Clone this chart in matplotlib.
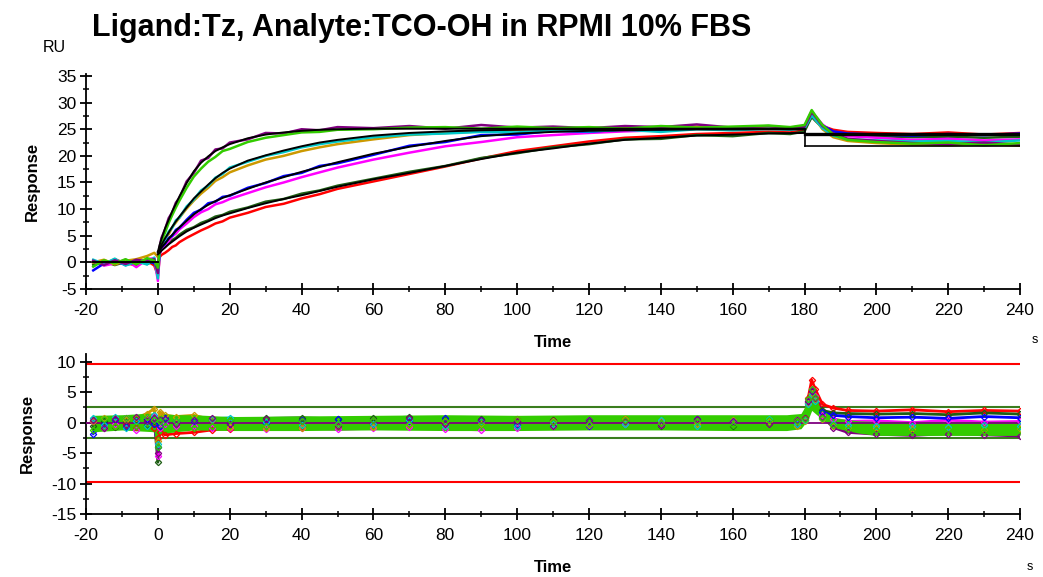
import matplotlib

matplotlib.use("Agg")
import matplotlib.pyplot as plt  # noqa: E402
from matplotlib.ticker import MultipleLocator  # noqa: E402

plt.rcParams["font.family"] = ["Liberation Sans", "DejaVu Sans"]
plt.rcParams["axes.unicode_minus"] = False

TITLE = "Ligand:Tz, Analyte:TCO-OH in RPMI 10% FBS"

# sensorgram time grid (s)
T = [-18, -15, -12, -9, -6, -3, -1,
     0, 0.5, 1, 2, 3, 4, 5, 6,
     8, 10, 12, 14, 16, 18, 20,
     25, 30, 35, 40, 45, 50,
     60, 70, 80, 90, 100, 110, 120, 130, 140, 150, 160, 170,
     176, 180, 181, 182, 183, 185, 188, 192,
     200, 210, 220, 230, 240]

purple = [0.3, -0.5, 0.4, -0.3, 0.5, 0.2, 0.6,
          -2.0, 3.0, 4.6, 6.2, 8.3, 9.4, 11.2, 12.1,
          15.2, 16.8, 19.1, 19.6, 21.2, 21.4, 22.5,
          23.1, 24.3, 24.2, 25.0, 24.8, 25.4,
          25.2, 25.6, 25.1, 25.8, 25.3, 25.5, 25.2, 25.6, 25.4, 25.9, 25.3, 25.6,
          25.2, 25.5, 26.8, 28.2, 27.4, 25.6, 24.2, 23.2,
          22.8, 22.4, 22.2, 22.5, 22.1]
green = [-0.8, 0.4, -0.2, 0.6, -0.4, 0.8, 0.3,
         -1.0, 2.6, 4.0, 5.6, 7.4, 8.9, 10.3, 11.6,
         14.0, 16.1, 17.6, 18.9, 19.8, 20.9, 21.3,
         22.6, 23.4, 23.9, 24.4, 24.5, 24.9,
         25.0, 25.3, 25.4, 25.1, 25.5, 25.2, 25.4, 25.1, 25.6, 25.3, 25.5, 25.7,
         25.4, 25.8, 27.2, 28.6, 27.6, 25.8, 24.0, 23.0,
         22.6, 22.3, 22.5, 22.0, 22.4]
cyan = [0.5, -0.3, 0.7, -0.6, 0.2, -0.4, 0.9,
        -3.0, 2.2, 3.4, 4.3, 5.8, 6.5, 7.9, 8.4,
        10.5, 11.8, 13.5, 14.4, 15.9, 16.6, 17.8,
        18.9, 20.0, 20.7, 21.6, 22.2, 22.7,
        23.5, 24.0, 24.2, 24.5, 24.4, 24.8, 24.6, 24.9, 24.5, 25.0, 24.8, 25.1,
        24.9, 25.2, 26.4, 27.6, 26.8, 25.2, 23.8, 23.1,
        22.9, 22.7, 22.8, 22.5, 22.9]
orange = [0.0, 0.5, -0.4, 0.3, 0.6, 1.2, 1.8,
          1.0, 2.8, 3.1, 4.6, 5.3, 6.6, 7.5, 8.4,
          10.1, 11.6, 12.9, 14.0, 15.3, 16.0, 16.9,
          18.2, 19.3, 20.0, 20.9, 21.6, 22.2,
          23.1, 23.9, 24.3, 24.6, 24.9, 25.2, 25.0, 25.4, 25.1, 25.5, 25.2, 25.4,
          25.0, 25.3, 26.5, 27.8, 26.9, 25.0, 23.5, 22.8,
          22.4, 22.1, 22.0, 22.3, 21.9]
blue = [-1.5, -0.2, 0.3, -0.5, 0.1, 0.4, -0.2,
        -1.5, 1.8, 2.9, 3.5, 4.6, 5.0, 6.1, 6.5,
        8.0, 9.3, 9.9, 11.1, 11.4, 12.3, 12.5,
        14.0, 14.9, 16.2, 16.8, 18.1, 18.6,
        20.2, 21.9, 22.6, 23.9, 24.0, 24.7, 24.5, 25.0, 24.8, 25.3, 25.0, 25.4,
        25.1, 25.3, 26.6, 27.9, 27.0, 25.7, 24.6, 24.2,
        24.0, 23.8, 24.1, 23.9, 24.2]
magenta = [0.2, -0.6, -0.2, 0.5, -0.9, 0.6, 0.8,
           -3.5, 1.5, 2.5, 3.3, 4.0, 4.9, 5.4, 6.2,
           7.3, 8.5, 9.4, 10.0, 10.9, 11.3, 11.9,
           13.0, 14.1, 15.0, 16.0, 16.9, 17.8,
           19.3, 20.6, 21.8, 22.6, 23.5, 23.9, 24.3, 24.6, 24.8, 25.1, 25.2, 25.5,
           25.3, 25.6, 27.0, 28.4, 27.5, 25.9, 24.4, 23.7,
           23.4, 23.0, 23.2, 22.9, 23.1]
dkgreen = [-0.4, 0.2, -0.5, 0.1, 0.4, -0.3, 0.2,
           -0.5, 1.8, 2.4, 2.9, 3.6, 4.2, 4.6, 5.2,
           6.1, 6.6, 7.4, 7.9, 8.6, 8.9, 9.5,
           10.3, 11.4, 11.9, 12.9, 13.5, 14.4,
           15.7, 17.0, 18.1, 19.6, 20.5, 21.6, 22.2, 23.1, 23.2, 23.9, 23.7, 24.3,
           24.1, 24.6, 26.0, 27.3, 26.6, 25.3, 24.4, 23.9,
           23.7, 23.5, 23.6, 23.4, 23.6]
red = [0.1, -0.3, 0.6, -0.2, -0.5, 0.3, -0.6,
       -2.5, 1.0, 1.4, 1.8, 2.3, 2.9, 3.2, 3.8,
       4.6, 5.3, 6.0, 6.6, 7.3, 7.7, 8.4,
       9.3, 10.4, 11.0, 12.0, 12.8, 13.8,
       15.2, 16.6, 18.0, 19.5, 20.9, 21.8, 22.7, 23.4, 23.7, 24.1, 24.3, 24.5,
       24.4, 24.8, 26.2, 27.5, 26.9, 25.6, 24.9, 24.5,
       24.3, 24.1, 24.4, 24.0, 24.3]

# fitted curves (association phase)
FIT_T = [0, 0.5, 1, 2, 3, 4, 5, 6,
         8, 10, 12, 14, 16, 18, 20,
         25, 30, 35, 40, 45, 50,
         60, 70, 80, 90, 100, 110, 120, 130, 140, 150, 160, 170, 180]
fit_a = [2.0, 3.3, 4.4, 6.4, 8.0, 9.6, 11.0, 12.4,
         14.9, 17.1, 18.7, 19.9, 20.9, 21.6, 22.2,
         23.3, 24.0, 24.4, 24.7, 24.9, 25.0,
         25.1, 25.1, 25.1, 25.1, 25.1, 25.1, 25.1, 25.1, 25.1, 25.1, 25.1, 25.1, 25.1]
fit_b = [2.0, 2.5, 3.3, 4.5, 5.6, 6.7, 7.7, 8.6,
         10.3, 12.0, 13.3, 14.6, 15.8, 16.8, 17.6,
         19.1, 20.1, 21.0, 21.8, 22.5, 23.0,
         23.8, 24.3, 24.6, 24.8, 24.9, 25.0, 25.0, 25.0, 25.0, 25.0, 25.0, 25.0, 25.0]
fit_c = [1.8, 2.3, 2.8, 3.6, 4.4, 5.2, 5.9, 6.6,
         7.8, 9.0, 10.0, 10.8, 11.5, 12.1, 12.6,
         13.8, 15.0, 16.0, 17.0, 17.9, 18.8,
         20.4, 21.7, 22.8, 23.7, 24.2, 24.5, 24.7, 24.8, 24.9, 25.0, 25.0, 25.0, 25.0]
fit_d = [1.5, 1.8, 2.2, 2.8, 3.4, 3.9, 4.4, 4.9,
         5.8, 6.5, 7.1, 7.7, 8.3, 8.8, 9.2,
         10.2, 11.1, 11.9, 12.6, 13.4, 14.2,
         15.6, 16.8, 18.1, 19.4, 20.6, 21.4, 22.3, 23.0, 23.4, 23.8, 24.0, 24.2, 24.3]
BASE_T = [-18, 0]
base_fit = [0.0, 0.0]
DISS_T = [180, 240]
diss_a = [21.9, 21.9]
diss_bcd = [24.1, 24.1]

# residuals
RT = [-18, -15, -12, -9, -6, -3, -1,
      0, 0.5, 2, 5,
      10, 15, 20,
      30, 40, 50, 60, 70, 80, 90, 100, 110, 120, 130, 140, 150, 160, 170,
      178, 180, 181, 182, 183, 185, 188, 192,
      200, 210, 220, 230, 240]
res_purple = [0.5, -0.8, 0.6, -0.4, 0.9, 0.3, 0.7,
              -5.0, 0.4, 0.6, -0.3,
              0.5, 0.8, -0.2,
              0.6, 0.3, -0.5, 0.4, 0.7, -0.3, 0.5, 0.2, -0.6, 0.4, 0.3, -0.4, 0.6, 0.2, -0.3,
              0.5, 0.8, 3.5, 5.2, 4.0, 1.0, -0.8, -1.6,
              -1.9, -2.1, -1.8, -2.0, -2.2]
res_green = [-1.2, 0.6, -0.5, 0.8, -0.6, 1.0, 0.5,
             -4.0, 0.2, -0.5, 0.3,
             -0.8, -0.6, 0.4,
             -0.5, 0.2, -0.3, 0.5, -0.2, 0.3, -0.4, 0.6, 0.1, -0.3, 0.4, -0.1, 0.3, -0.4, 0.5,
             0.2, 0.6, 3.8, 5.5, 4.2, 0.8, -0.4, -1.0,
             -1.2, -1.3, -1.1, -1.4, -1.2]
res_cyan = [0.8, -0.4, 1.0, -0.8, 0.3, -0.6, 1.2,
            -3.5, 0.3, 0.5, 0.2,
            0.4, 0.6, 0.8,
            0.1, -0.4, -0.2, -0.3, 0.4, -0.5, 0.2, -0.6, -0.3, 0.5, -0.2, 0.4, -0.5, 0.3, 0.6,
            -0.2, 0.4, 3.0, 4.6, 3.6, 0.7, -0.2, -0.4,
            -0.6, -0.5, -0.7, -0.4, -0.6]
res_orange = [0.2, 0.7, -0.6, 0.4, 0.8, 1.5, 2.3,
              -3.0, 1.8, 1.2, 1.0,
              1.2, 0.5, -0.7,
              -0.8, -0.9, -0.6, -0.7, -0.4, 0.3, -0.2, 0.5, 0.2, -0.4, 0.6, 0.3, -0.3, 0.4, 0.2,
              -0.5, 0.3, 3.2, 4.8, 3.8, 0.6, -0.5, -0.8,
              -0.9, -1.1, -0.8, -1.2, -1.0]
res_blue = [-1.8, -0.3, 0.4, -0.7, 0.2, 0.6, -0.3,
            -4.0, -0.5, 0.7, 0.2,
            0.3, 0.5, -0.2,
            -0.1, 0.4, 0.6, -0.2, 0.3, 0.8, 0.5, -0.4, 0.3, -0.5, 0.4, 0.2, 0.6, 0.3, 0.5,
            -0.3, 0.4, 3.4, 5.0, 4.1, 1.7, 1.2, 1.0,
            0.8, 0.9, 0.7, 1.0, 0.8]
res_magenta = [0.3, -0.9, -0.3, 0.7, -1.2, 0.8, 1.1,
               -5.5, -0.8, -0.3, -0.5,
               -0.6, -0.8, -0.9,
               -1.0, -0.8, -1.1, -0.9, -0.7, -1.0, -1.2, -0.8, -0.6, -0.5, -0.3, -0.4, 0.2, 0.3, 0.5,
               0.4, 0.6, 3.6, 5.6, 4.4, 1.3, 0.6, 0.2,
               0.3, 0.0, 0.4, 0.1, 0.2]
res_dkgreen = [-0.6, 0.3, -0.7, 0.2, 0.6, -0.4, 0.3,
               -6.5, 0.2, 0.4, 0.3,
               0.5, 0.6, 0.5,
               0.7, 0.8, 0.6, 0.7, 0.9, 0.5, 0.6, 0.3, 0.5, 0.2, 0.4, -0.5, 0.3, -0.6, 0.4,
               0.2, 0.5, 3.2, 5.3, 4.2, 2.0, 1.6, 1.5,
               1.4, 1.5, 1.3, 1.6, 1.4]
res_red = [0.2, -0.4, 0.8, -0.3, -0.7, 0.4, -0.8,
           -2.5, -1.5, -2.0, -1.8,
           -1.6, -1.2, -1.0,
           -0.9, -0.7, -0.5, -0.2, 0.3, 0.1, 0.4, 0.6, 0.5, 0.4, 0.6, 0.3, 0.5, 0.2, 0.4,
           0.3, 0.7, 4.0, 7.0, 5.5, 3.0, 2.4, 2.0,
           1.9, 2.1, 1.8, 2.0, 1.9]

# spread of the dense residual cloud
BAND_T = [-18, -10, -1, 0, 1, 5, 10, 20, 40, 60, 80, 100, 120, 140, 160, 175, 179,
          181, 182, 184, 188, 195, 200, 240]
band_hi = [1.2, 1.3, 1.6, 1.0, 1.5, 1.3, 1.3, 1.0, 1.1, 1.2, 1.3, 1.2, 1.3, 1.3, 1.3, 1.3, 1.5,
           3.5, 4.0, 2.5, 0.8, 0.3, 0.2, 0.2]
band_lo = [-1.5, -1.2, -1.5, -2.5, -1.8, -1.5, -1.2, -1.3, -1.3, -1.2, -1.3, -1.3, -1.2, -1.2, -1.3,
           -1.3, -1.0, 0.5, 2.0, 1.0, -0.8, -1.7, -2.1, -2.1]

LIMIT_OUTER = 9.7
LIMIT_INNER = 2.6

series = [
    (red, res_red, "#ff0000"),
    (dkgreen, res_dkgreen, "#1e5e14"),
    (magenta, res_magenta, "#ff00ff"),
    (blue, res_blue, "#0000ff"),
    (orange, res_orange, "#cc9900"),
    (cyan, res_cyan, "#00c8c8"),
    (purple, res_purple, "#800080"),
    (green, res_green, "#33cc00"),
]


def style_axes(ax, ymaj, ymin):
    for side in ("top", "right"):
        ax.spines[side].set_visible(False)
    ax.spines["left"].set_linewidth(1.3)
    ax.spines["bottom"].set_linewidth(1.3)
    ax.set_xlim(-20, 240)
    ax.xaxis.set_major_locator(MultipleLocator(20))
    ax.xaxis.set_minor_locator(MultipleLocator(10))
    ax.yaxis.set_major_locator(MultipleLocator(ymaj))
    ax.yaxis.set_minor_locator(MultipleLocator(ymin))
    ax.tick_params(which="major", direction="inout", length=8, width=1.3, labelsize=12.5)
    ax.tick_params(axis="x", which="major", pad=6)
    ax.tick_params(axis="y", which="major", pad=3)
    ax.tick_params(which="minor", direction="inout", length=5, width=1.1)
    ax.set_xlabel("Time", fontsize=12, fontweight="bold", labelpad=12)
    ax.set_ylabel("Response", fontsize=12, fontweight="bold", labelpad=12)


fig = plt.figure(figsize=(10.43, 5.77), dpi=100)

ax1 = fig.add_axes([0.0825, 0.4991, 0.8955, 0.372])
for vals, _, color in series:
    ax1.plot(T, vals, color=color, lw=1.8)
for fit in (fit_d, fit_c, fit_b, fit_a):
    ax1.plot(FIT_T, fit, color="black", lw=1.4)
ax1.plot(BASE_T, base_fit, color="black", lw=1.4)
ax1.plot([FIT_T[-1], DISS_T[0]], [fit_a[-1], diss_a[0]], color="black", lw=1.2)
ax1.plot(DISS_T, diss_a, color="black", lw=1.2)
ax1.plot(DISS_T, diss_bcd, color="black", lw=2.4)
ax1.set_ylim(-5, 35.3)
style_axes(ax1, 5, 2.5)

ax2 = fig.add_axes([0.0825, 0.1092, 0.8955, 0.2776])
ax2.axhline(LIMIT_OUTER, color="#ff0000", lw=1.5)
ax2.axhline(-LIMIT_OUTER, color="#ff0000", lw=1.5)
ax2.axhline(LIMIT_INNER, color="#3a7d1e", lw=1.5)
ax2.axhline(-LIMIT_INNER, color="#3a7d1e", lw=1.5)
for _, res, color in series:
    ax2.plot(RT, res, color=color, lw=2.0, zorder=2)
ax2.fill_between(BAND_T, band_lo, band_hi, color="#33cc00", lw=0, zorder=3)
ax2.axhline(0, color="#800080", lw=1.3, zorder=3.5)
for _, res, color in series:
    ax2.plot(RT, res, ls="none", marker="D", ms=3.2, mfc="none", mew=0.9,
             color=color, zorder=4)
ax2.set_ylim(-15, 11.3)
style_axes(ax2, 5, 2.5)

fig.text(0.404, 0.951, TITLE, fontsize=22, fontweight="bold", ha="center", va="center")
fig.text(0.052, 0.917, "RU", fontsize=11.5, ha="center", va="center")
fig.text(0.992, 0.41, "s", fontsize=9, ha="center", va="center")
fig.text(0.987, 0.017, "s", fontsize=9, ha="center", va="center")

fig.savefig("out.png", dpi=100)
